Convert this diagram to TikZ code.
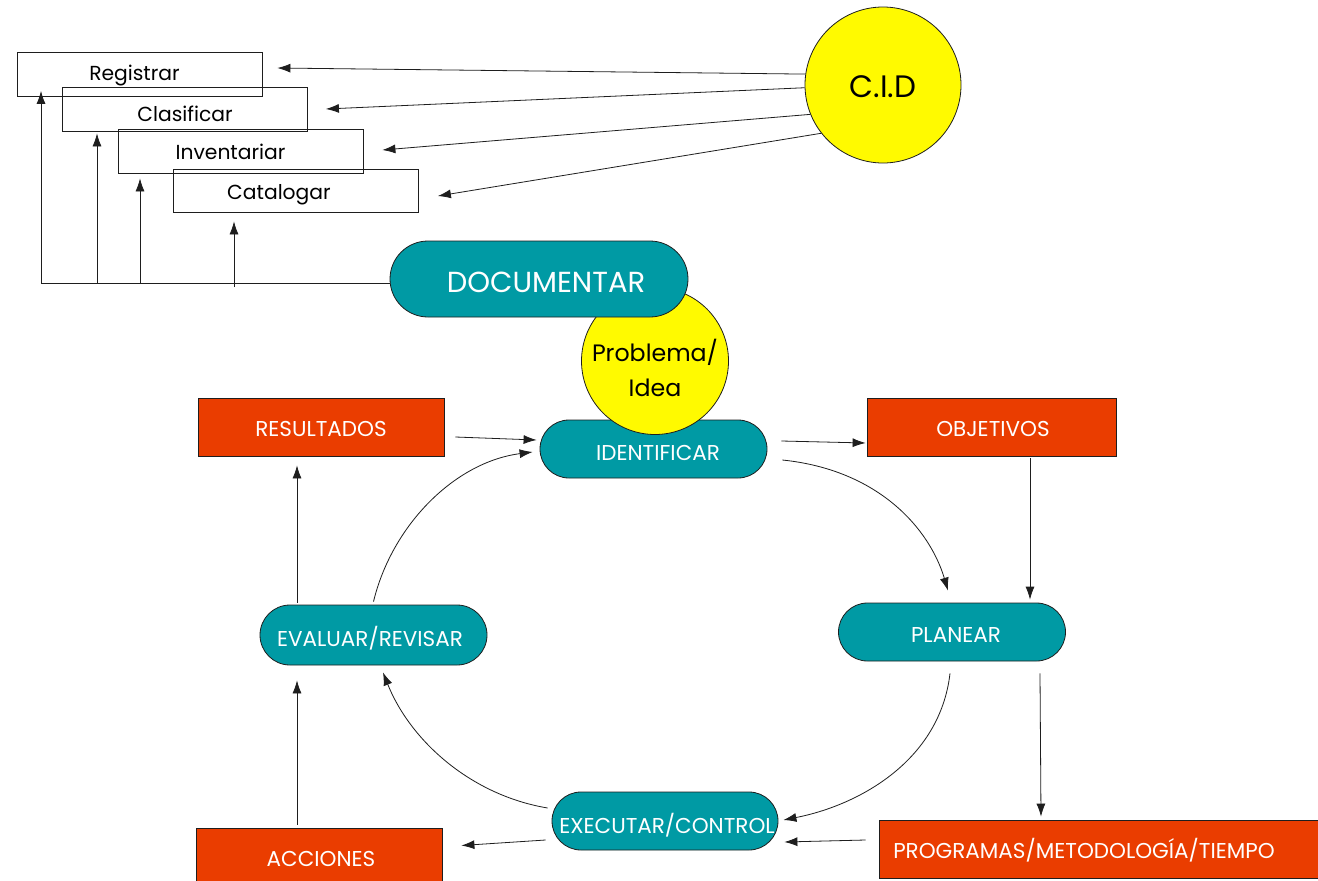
\documentclass[tikz,border=0pt]{standalone}
\usepackage{fontspec}
\setmainfont{Poppins}
\usetikzlibrary{arrows.meta}
\definecolor{tealc}{RGB}{0,154,164}
\definecolor{orangec}{RGB}{234,61,0}
\definecolor{yellowc}{RGB}{255,250,0}
\definecolor{linec}{RGB}{30,30,30}
% lower a label by #1 without changing the size of its box
\newcommand{\lowered}[2]{\raisebox{-#1}[\height][\depth]{#2}}
\tikzset{
  taskbox/.style={draw=linec, line width=0.8pt, minimum width=245pt, minimum height=44pt,
    inner sep=0pt, font=\fontsize{20.3}{20.3}\selectfont},
  pill/.style={draw=linec, line width=0.8pt, fill=tealc, text=white, inner sep=0pt,
    rounded corners=29pt, minimum width=227pt, minimum height=58pt,
    font=\fontsize{21.5}{21.5}\selectfont},
  outbox/.style={draw=linec, line width=0.8pt, fill=orangec, text=white, inner sep=0pt,
    minimum width=246pt, minimum height=58pt, font=\fontsize{21.5}{21.5}\selectfont},
  sun/.style={circle, draw=linec, line width=0.8pt, fill=yellowc, inner sep=0pt, align=center},
  arr/.style={-{Latex[length=13pt,width=9pt]}, draw=linec, line width=0.8pt},
}
\begin{document}
\begin{tikzpicture}[x=1pt,y=-1pt]
\useasboundingbox (0,0) rectangle (1318,881);
\fill[white] (0,0) rectangle (1318,881);

% the four documentation tasks
\node[taskbox] (reg) at (139.5,74.5) {\hspace*{-10pt}\lowered{1pt}{Registrar}};
\node[taskbox] (cla) at (185,109) {\lowered{5pt}{Clasificar}};
\node[taskbox] (inv) at (240.5,151) {\hspace*{-20pt}\lowered{1pt}{Inventariar}};
\node[taskbox, minimum height=43pt] (cat) at (296,190.5) {\hspace*{-34pt}\lowered{4pt}{Catalogar}};

% C.I.D
\node[sun, minimum size=156pt, font=\fontsize{31}{31}\selectfont] (cid) at (883,85) {\lowered{2pt}{C.I.D}};

% Problema / Idea sits between DOCUMENTAR and IDENTIFICAR
\node[pill] (ident) at (653.5,449) {\hspace*{9pt}\lowered{4pt}{IDENTIFICAR}};
\node[sun, minimum size=147pt, font=\fontsize{23.7}{30}\selectfont] (prob) at (655,361)
  {\lowered{11pt}{\begin{tabular}{@{}c@{}}Problema/\\[5pt]Idea\end{tabular}}};
\node[pill, minimum width=298pt, minimum height=76pt, rounded corners=38pt,
  font=\fontsize{29}{29}\selectfont] (doc) at (539,279) {\hspace*{14pt}\lowered{3pt}{DOCUMENTAR}};

% cycle
\node[pill] (plan) at (952,632) {\hspace*{8pt}\lowered{3pt}{PLANEAR}};
\node[pill, minimum height=60pt, rounded corners=30pt] (eval) at (373.5,635)
  {\hspace*{-7pt}\lowered{3pt}{EVALUAR/REVISAR}};
\node[pill, minimum width=226pt] (exec) at (665,821)
  {\hspace*{4pt}\lowered{4pt}{EXECUTAR/CONTROL}};

% outputs
\node[outbox] (res) at (321,427) {\lowered{2pt}{RESULTADOS}};
\node[outbox, minimum width=249pt] (obj) at (991.5,427) {\hspace*{3pt}\lowered{2pt}{OBJETIVOS}};
\node[outbox, minimum width=246pt, minimum height=60pt] (acc) at (319,858) {\hspace*{4pt}\lowered{1pt}{ACCIONES}};
\node[outbox, minimum width=441pt] (prog) at (1099.5,849)
  {\hspace*{-31pt}\lowered{1pt}{PROGRAMAS/METODOLOGÍA/TIEMPO}};

% C.I.D feeds every task
\draw[arr] (cid.172) -- ([xshift=15pt,yshift=6.5pt]reg.east);
\draw[arr] (cid.182) -- ([xshift=18pt]cla.east);
\draw[arr] (cid.202) -- ([xshift=19pt,yshift=1pt]inv.east);
\draw[arr] (cid.218) -- ([xshift=19pt,yshift=-5.5pt]cat.east);

% DOCUMENTAR feeds every task from below
\coordinate (b1) at (41,283);
\coordinate (b2) at (97,283);
\coordinate (b3) at (140,283);
\coordinate (b4) at (234,287);
\draw[draw=linec, line width=0.8pt] (doc.west |- b1) -- (b1);
\draw[arr] (b1) -- ([yshift=6pt]reg.south -| b1);
\draw[arr] (b2) -- ([yshift=-2pt]cla.south -| b2);
\draw[arr] (b3) -- ([yshift=-5pt]inv.south -| b3);
\draw[arr] (b4) -- ([yshift=-9pt]cat.south -| b4);

% straight links of the cycle
\draw[arr] ([xshift=11pt,yshift=-10pt]res.east) -- ([xshift=-3pt,yshift=9pt]ident.west);
\draw[arr] ([xshift=14pt,yshift=8pt]ident.east) -- ([xshift=-1pt,yshift=-16pt]obj.west);
\draw[arr] ([xshift=38.5pt,yshift=-2pt]obj.south) -- ([xshift=78pt,yshift=3pt]plan.north);
\draw[arr] ([xshift=88pt,yshift=-12pt]plan.south) -- ([xshift=-58.5pt,yshift=3pt]prog.north);
\draw[arr] ([xshift=-13pt,yshift=9pt]prog.west) -- ([xshift=6pt,yshift=-21pt]exec.east);
\draw[arr] ([xshift=-6pt,yshift=-19pt]exec.west) -- ([xshift=19pt,yshift=12.5pt]acc.east);
\draw[arr] ([xshift=-22pt,yshift=3pt]acc.north) -- ([xshift=-76.5pt,yshift=-15pt]eval.south);
\draw[arr] ([xshift=-76.5pt,yshift=2pt]eval.north) -- ([xshift=-24pt,yshift=-9pt]res.south);

% curved links of the cycle
\draw[arr] ([yshift=3pt]eval.north) .. controls (392,525) and (455,462) .. ([xshift=-7pt,yshift=-3pt]ident.west);
\draw[arr] ([xshift=15pt,yshift=-11pt]ident.east) .. controls (880,470) and (930,530) .. ([xshift=-4pt,yshift=12pt]plan.north);
\draw[arr] ([xshift=-2pt,yshift=-12pt]plan.south) .. controls (940,760) and (860,805) .. ([xshift=5pt,yshift=1pt]exec.east);
\draw[arr] ([xshift=-4pt,yshift=13pt]exec.west) .. controls (470,795) and (410,740) .. ([xshift=9.5pt,yshift=-7pt]eval.south);
\end{tikzpicture}
\end{document}
